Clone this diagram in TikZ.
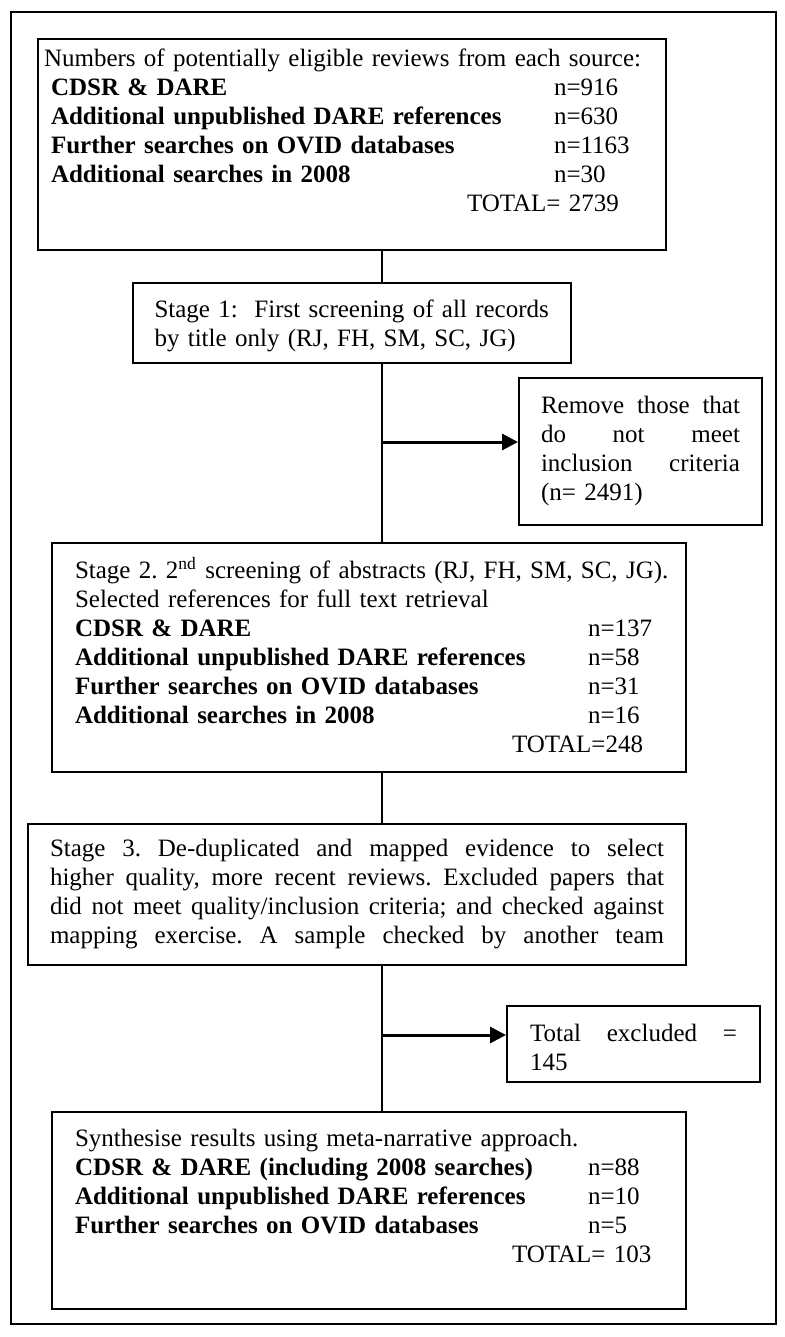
\documentclass[tikz,border=0pt]{standalone}
\usepackage{fontspec}
\setmainfont{Liberation Serif}
\usetikzlibrary{arrows.meta}
\newcommand{\fullline}[2]{\makebox[#1][s]{\spaceskip=0.25em plus 1fil\relax #2}}
\newcommand{\entry}[3]{\makebox[#1][l]{\textbf{#2}}#3}

\begin{document}
\begin{tikzpicture}[x=0.5pt, y=-0.5pt, line width=1pt, font=\fontsize{12.5}{14.5}\selectfont\frenchspacing,
  >={Triangle[length=8pt, width=8pt]},
  bx/.style={draw, anchor=north west, align=left, inner ysep=0pt},
  exarrow/.style={->, line width=1.5pt}]
  \useasboundingbox (0,0) rectangle (785,1337);
  \draw (11,12) rectangle (776,1324);
  \coordinate (sp) at (382,0);
  \node[bx, inner xsep=3pt, text width=308pt, text height=14pt, text depth=91.5pt] (src) at (37,38)
    {Numbers of potentially eligible reviews from each source:\\
     \hspace*{3.5pt}\entry{251.5pt}{CDSR \& DARE}{n=916}\\
     \hspace*{3.5pt}\entry{251.5pt}{Additional unpublished DARE references}{n=630}\\
     \hspace*{3.5pt}\entry{251.5pt}{Further searches on OVID databases}{n=1163}\\
     \hspace*{3.5pt}\entry{251.5pt}{Additional searches in 2008}{n=30}\\
     \hspace*{211.5pt}TOTAL= 2739};
  \node[bx, inner xsep=10.75pt, text width=197.5pt, text height=17pt, text depth=23pt] (st1) at (132,282)
    {\mbox{Stage 1:\ \ First screening of all records}\\
     by title only (RJ, FH, SM, SC, JG)};
  \node[bx, inner xsep=11pt, text width=99.5pt, text height=17.5pt, text depth=56pt] (rm) at (518,377)
    {\fullline{99.5pt}{Remove those that}\\
     \fullline{99.5pt}{do not meet}\\
     \fullline{99.5pt}{inclusion criteria}\\
     (n= 2491)};
  \node[bx, inner xsep=11.5pt, text width=294pt, text height=17.5pt, text depth=97pt] (st2) at (51,542)
    {\mbox{Stage 2. 2\textsuperscript{nd} screening of abstracts (RJ, FH, SM, SC, JG).}\\
     Selected references for full text retrieval\\
     \entry{256.5pt}{CDSR \& DARE}{n=137}\\
     \entry{256.5pt}{Additional unpublished DARE references}{n=58}\\
     \entry{256.5pt}{Further searches on OVID databases}{n=31}\\
     \entry{256.5pt}{Additional searches in 2008}{n=16}\\
     \hspace*{218.5pt}TOTAL=248};
  \node[bx, inner xsep=11pt, text width=307pt, text height=16pt, text depth=54.5pt] (st3) at (27,823)
    {\fullline{307pt}{Stage 3. De-duplicated and mapped evidence to select}\\
     \fullline{307pt}{higher quality, more recent reviews. Excluded papers that}\\
     \fullline{307pt}{did not meet quality/inclusion criteria; and checked against}\\
     \fullline{307pt}{mapping exercise. A sample checked by another team}};
  \node[bx, inner xsep=11.5pt, text width=103.5pt, text height=17.5pt, text depth=20.5pt] (exc) at (506,1005)
    {\fullline{103.5pt}{Total excluded =}\\
     145};
  \node[bx, inner xsep=11.5pt, text width=294pt, text height=17pt, text depth=81.5pt] (syn) at (51,1111)
    {Synthesise results using meta-narrative approach.\\
     \entry{256.5pt}{CDSR \& DARE (including 2008 searches)}{n=88}\\
     \entry{256.5pt}{Additional unpublished DARE references}{n=10}\\
     \entry{256.5pt}{Further searches on OVID databases}{n=5}\\
     \hspace*{218.5pt}TOTAL= 103};
  \foreach \a/\b in {src/st1,st1/st2,st2/st3,st3/syn} \draw (\a.south -| sp) -- (\b.north -| sp);
  \coordinate (j1) at (382,442);
  \coordinate (j2) at (382,1035);
  \draw[exarrow] (j1) -- (j1 -| rm.west);
  \draw[exarrow] (j2) -- (j2 -| exc.west);
\end{tikzpicture}
\end{document}
